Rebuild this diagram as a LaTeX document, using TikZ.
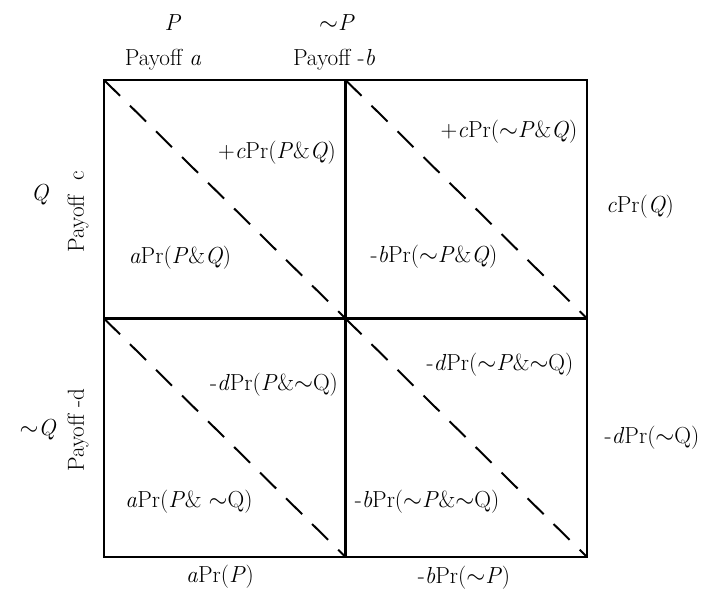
\documentclass[tikz,border=0pt]{standalone}
\usetikzlibrary{positioning}
\newcommand{\nt}{$\sim$}

\begin{document}
\begin{tikzpicture}[x=0.025cm,y=-0.025cm]
	\tikzset{
		cell/.style={draw, line width=1.5pt},
		diag/.style={line width=1.4pt, dash pattern=on 16pt off 10pt},
		lbl/.style={font=\fontsize{16.5}{19}\selectfont, inner sep=1pt}
	}
	\useasboundingbox (0,0) rectangle (712,593);
	\foreach \i in {0,1,2} {
		\foreach \j in {0,1,2} {
			\coordinate (g\i\j) at (104+241.5*\i, 80+238.5*\j);
		}
	}
	\draw[cell] (g00) rectangle (g22);
	\draw[cell] (g10) -- (g12);
	\draw[cell] (g01) -- (g21);
	\foreach \i/\k in {0/1,1/2} {
		\foreach \j/\l in {0/1,1/2} {
			\draw[diag] (g\i\j) -- (g\k\l);
		}
	}
	% headings
	\node[lbl] (hP) at (173,23) {\textit{P}};
	\node[lbl] (hPa) at (163,60) {Payoff \textit{a}};
	\node[lbl] (hnP) at (337,23) {\nt\textit{P}};
	\node[lbl] (hPb) at (334,60) {Payoff -\textit{b}};
	\node[lbl] (hQ) at (40,195) {\textit{Q}};
	\node[lbl, rotate=90] (hPc) at (78,212) {Payoff\ \ c};
	\node[lbl] (hnQ) at (38,430) {\nt\textit{Q}};
	\node[lbl, rotate=90] (hPd) at (78,430) {Payoff -d};
	% cells
	\node[lbl] (tPQ) at (277,153) {+\textit{c}Pr(\textit{P}\&\textit{Q})};
	\node[lbl] (bPQ) at (180,258) {\textit{a}Pr(\textit{P}\&\textit{Q})};
	\node[lbl] (tnPQ) at (509,132) {+\textit{c}Pr(\nt\textit{P}\&\textit{Q})};
	\node[lbl] (bnPQ) at (434,257) {-\textit{b}Pr(\nt\textit{P}\&\textit{Q})};
	\node[lbl] (tPnQ) at (274,385) {-\textit{d}Pr(\textit{P}\&\nt Q)};
	\node[lbl] (bPnQ) at (189,502) {\textit{a}Pr(\textit{P}\& \nt Q)};
	\node[lbl] (tnPnQ) at (500,365) {-\textit{d}Pr(\nt\textit{P}\&\nt Q)};
	\node[lbl] (bnPnQ) at (427,502) {-\textit{b}Pr(\nt\textit{P}\&\nt Q)};
	% margins
	\node[lbl] (mQ) at (640,207) {\textit{c}Pr(\textit{Q})};
	\node[lbl] (mnQ) at (652,438) {-\textit{d}Pr(\nt Q)};
	\node[lbl] (mP) at (220,577) {\textit{a}Pr(\textit{P})};
	\node[lbl] (mnP) at (464,578) {-\textit{b}Pr(\nt\textit{P})};
\end{tikzpicture}
\end{document}
